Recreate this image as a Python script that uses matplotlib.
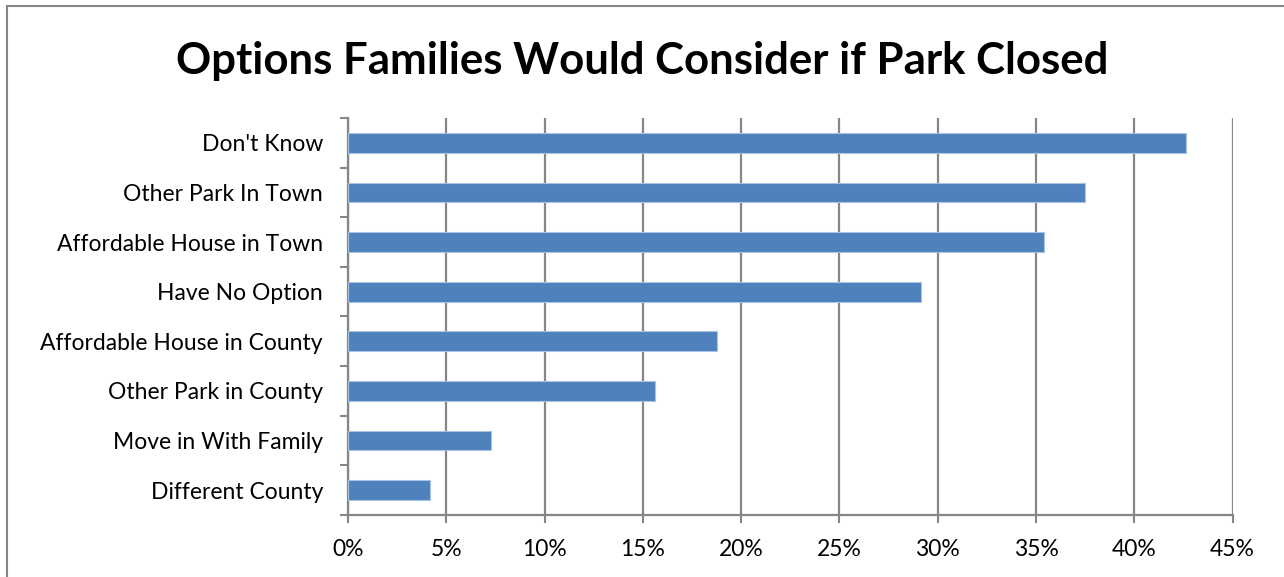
import matplotlib.pyplot as plt
from matplotlib.patches import Rectangle
from matplotlib.ticker import FuncFormatter, FixedLocator

categories = ["Don't Know", "Other Park In Town", "Affordable House in Town",
              "Have No Option", "Affordable House in County", "Other Park in County",
              "Move in With Family", "Different County"]
values = [42.65, 37.5, 35.4, 29.15, 18.75, 15.6, 7.3, 4.15]

plt.rcParams['font.family'] = ['Lato', 'DejaVu Sans']

fig = plt.figure(figsize=(12.84, 5.77), dpi=100)
ax = fig.add_axes([0.271, 0.1075, 0.689, 0.688])

n = len(categories)
ypos = list(range(n))[::-1]
ax.barh(ypos, values, height=0.4, color='#4F81BD', edgecolor='#A9C3E3', linewidth=0.8, zorder=3)

ax.set_xlim(0, 45)
ax.set_ylim(-0.5, n - 0.5)
ax.set_xticks(range(0, 50, 5))
ax.xaxis.set_major_formatter(FuncFormatter(lambda v, p: f"{int(v)}%"))
ax.grid(axis='x', color='#868686', linewidth=1.6, zorder=0)

ax.set_yticks(ypos)
ax.set_yticklabels(categories)
ax.yaxis.set_minor_locator(FixedLocator([i - 0.5 for i in range(n + 1)]))
ax.tick_params(axis='y', which='major', length=0, pad=18, labelsize=16.5)
ax.tick_params(axis='y', which='minor', length=6, color='#868686', width=1.5)
ax.tick_params(axis='x', length=6, color='#868686', width=1.5, labelsize=16.5, pad=11)

for s in ['top', 'right']:
    ax.spines[s].set_visible(False)
for s in ['left', 'bottom']:
    ax.spines[s].set_color('#868686')
    ax.spines[s].set_linewidth(1.6)

fig.text(0.5, 0.895, "Options Families Would Consider if Park Closed",
         ha='center', va='center', fontsize=31.5, fontweight='bold')

fig.patches.append(Rectangle((7 / 1284, -0.1), 1.2, 1 - 6 / 577 + 0.1, transform=fig.transFigure,
                             fill=False, edgecolor='#868686', linewidth=1.5))

fig.savefig('out.png', dpi=100)
